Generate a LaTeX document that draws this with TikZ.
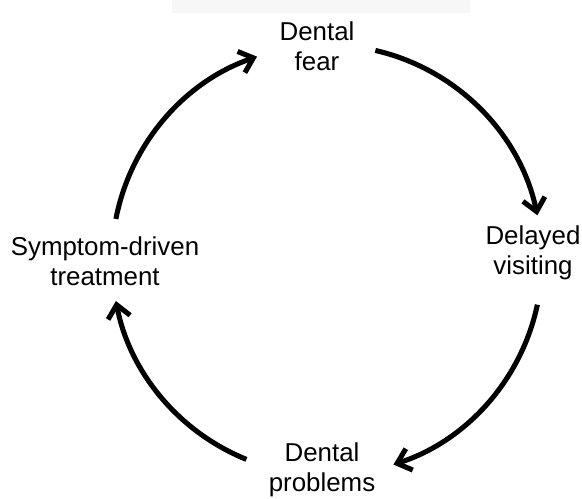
\documentclass[tikz,border=0pt]{standalone}
\usepackage{fontspec}
\setmainfont{Liberation Sans}
\usetikzlibrary{arrows.meta,calc}
\tikzset{
  lbl/.style={align=center,inner sep=2pt,font=\fontsize{18.4}{21}\selectfont},
  cyc/.style={-{Straight Barb[length=3.2mm,width=5.6mm]},line width=3.6pt,draw=black},
  band/.style={fill=black!3,draw=none}
}

\begin{document}
\begin{tikzpicture}[x=0.025cm,y=0.025cm]
  \useasboundingbox (0,0) rectangle (582,498);
  \fill[band] (172,485) rectangle (470,498);
  \coordinate (hub) at (327,238);
  \node[lbl] (fear) at (317,452) {Dental\\fear};
  \node[lbl] (delay) at (533,245) {Delayed\\visiting};
  \node[lbl] (probs) at (322,28) {Dental\\problems};
  \node[lbl] (sympt) at (105,237) {Symptom-driven\\treatment};
  % the cycle, one arc per step
  \coordinate (s1) at ($(hub)+(169:5.375cm)$);
  \coordinate (s2) at ($(hub)+(77:5.375cm)$);
  \coordinate (s3) at ($(hub)+(-12:5.375cm)$);
  \coordinate (s4) at ($(hub)+(-112:5.375cm)$);
  \draw[cyc] (s1) arc[start angle=169,end angle=109,radius=5.375cm];
  \draw[cyc] (s2) arc[start angle=77,end angle=12,radius=5.375cm];
  \draw[cyc] (s3) arc[start angle=-12,end angle=-72,radius=5.375cm];
  \draw[cyc] (s4) arc[start angle=-112,end angle=-169,radius=5.375cm];
\end{tikzpicture}
\end{document}
